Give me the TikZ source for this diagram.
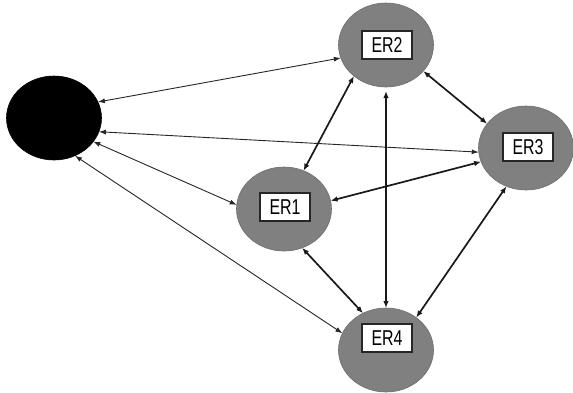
\documentclass[tikz,border=0pt]{standalone}
\usepackage{fontspec}
\newfontfamily\erfont[FakeStretch=0.74]{Liberation Sans}
\usetikzlibrary{arrows.meta,shapes.geometric}
\definecolor{ergray}{RGB}{128,128,128}
\begin{document}
\begin{tikzpicture}[x=1pt,y=-1pt,
 er/.style={ellipse, fill=ergray, draw=ergray!85!black, line width=0.6pt, minimum width=95pt, minimum height=84pt, inner sep=0pt, outer sep=0pt},
 blackdot/.style={er, fill=black, draw=black},
 lab/.style={draw=black!85, fill=white, line width=1.1pt, minimum width=50pt, minimum height=28pt, inner sep=0pt, font=\erfont\fontsize{21.5}{21.5}\selectfont},
 thinarrow/.style={{Latex[length=7pt,width=5pt]}-{Latex[length=7pt,width=5pt]}, line width=0.9pt, draw=black!85},
 thickarrow/.style={{Latex[length=7pt,width=5.5pt]}-{Latex[length=7pt,width=5.5pt]}, line width=1.7pt, draw=black!90}]
\useasboundingbox (0,0) rectangle (573,392);
\node[blackdot] (blk) at (54,118) {};
\node[er] (er2) at (386,45) {};
\node[er] (er1) at (284,209) {};
\node[er] (er3) at (526,148) {};
\node[er] (er4) at (386,350) {};
\node[lab] (l2) at (387,45) {ER2};
\node[lab] (l1) at (285,207) {ER1};
\node[lab] (l3) at (528,147) {ER3};
\node[lab] (l4) at (387,338) {ER4};
\draw[thinarrow] (blk.20) -- (er2.196);
\draw[thinarrow] (blk.-17) -- (er3.185);
\draw[thinarrow] (blk.-31) -- (er1.175);
\draw[thinarrow] (blk.-61) -- (er4.159);
\draw[thickarrow] (er2.224) -- (er1.63);
\draw[thickarrow, shorten <=4pt] (er2.south) -- (er4.north);
\draw[thickarrow] (er2.-35) -- (er3.148);
\draw[thickarrow] (er1.10) -- (er3.197);
\draw[thickarrow] (er1.-65) -- (er4.122);
\draw[thickarrow] (er3.243) -- (er4.47);
\end{tikzpicture}
\end{document}
